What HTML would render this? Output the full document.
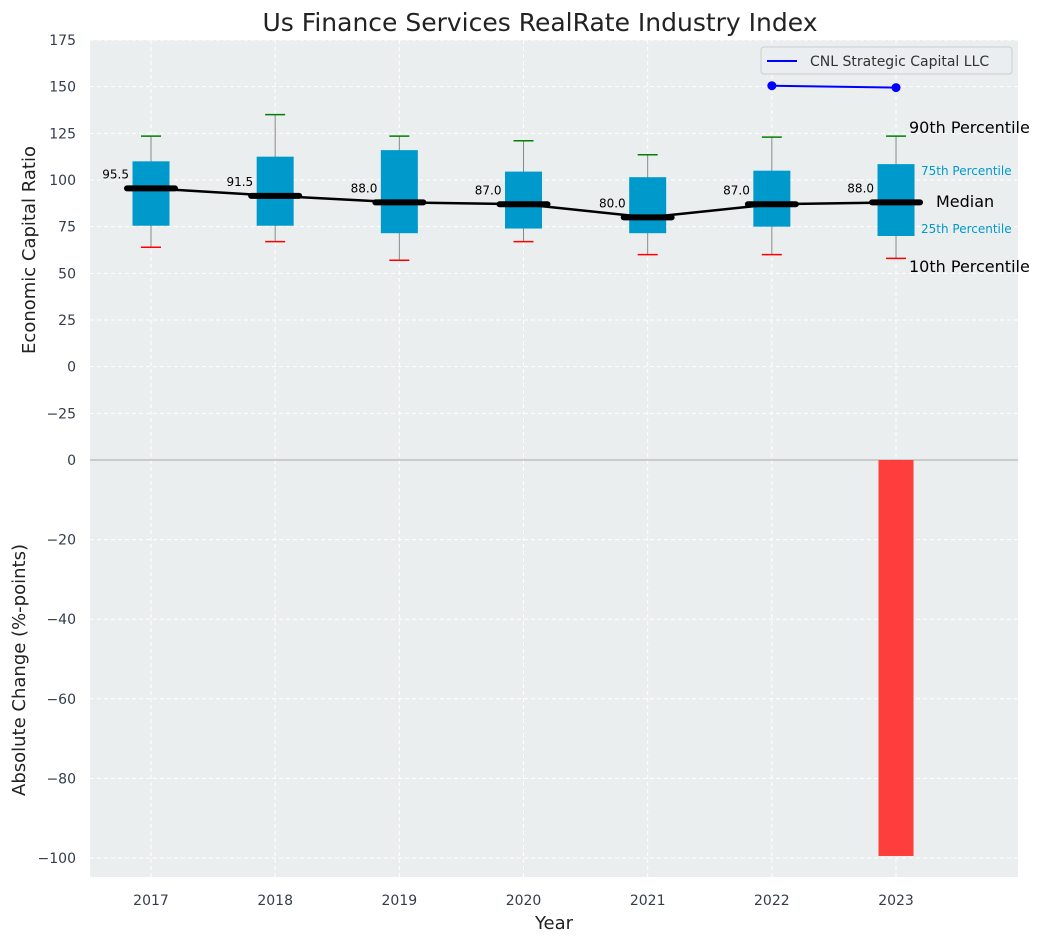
<!DOCTYPE html>
<html><head><meta charset="utf-8"><style>
body{margin:0;background:#fff;}
svg text{font-family:"DejaVu Sans","Liberation Sans",sans-serif;}
</style></head><body>
<svg id="c" width="1044" height="942" xmlns="http://www.w3.org/2000/svg"></svg>
<script>
const years=[2017,2018,2019,2020,2021,2022,2023];
const p10=[64,67,57,67,60,60,58];
const q1=[75.5,75.5,71.5,74,71.5,75,70];
const med=[95.5,91.5,88.0,87.0,80.0,87.0,88.0];
const q3=[110,112.5,116,104.5,101.5,105,108.5];
const p90=[123.5,135,123.5,121,113.5,123,123.5];
const cnlYears=[2022,2023];
const cnlVals=[150.5,149.5];
const changeYears=[2023];
const changeVals=[-99.5];
const topTicks=[-25,0,25,50,75,100,125,150,175];
const botTicks=[-100,-80,-60,-40,-20,0];

const NS="http://www.w3.org/2000/svg";
const svg=document.getElementById('c');
function el(t,a,p){const e=document.createElementNS(NS,t);for(const k in a)e.setAttribute(k,a[k]);(p||svg).appendChild(e);return e;}
const L=90,R=1018;
const x=v=>151+(v-2017)*124.17;
const T0=40,T1=460; const yt=v=>T1-(v+50)/(225)*(T1-T0);
const B0=460,B1=877; const yb=v=>B0+(-v)*3.98;

let bg=el('rect',{x:L,y:T0,width:R-L,height:B1-T0,fill:'#eaeeef'});


years.forEach(yr=>{let g=el('line',{x1:x(yr),x2:x(yr),y1:T0,y2:B1,stroke:'#fff','stroke-dasharray':'4,3'});
});
topTicks.forEach(v=>{let g=el('line',{x1:L,x2:R,y1:yt(v),y2:yt(v),stroke:'#fff','stroke-dasharray':'4,3'});

let t=el('text',{x:L-14,y:yt(v)+5,'text-anchor':'end','font-size':14,fill:'#333d4d'});t.textContent=v<0?'\u2212'+(-v):v;
});
botTicks.forEach(v=>{let g=el('line',{x1:L,x2:R,y1:yb(v),y2:yb(v),stroke:'#fff','stroke-dasharray':'4,3'});

let t=el('text',{x:L-14,y:yb(v)+5,'text-anchor':'end','font-size':14,fill:'#333d4d'});t.textContent=v<0?'\u2212'+(-v):v;
});
let sep=el('line',{x1:L,x2:R,y1:460,y2:460,stroke:'#aaa','stroke-width':1});

years.forEach((yr,i)=>{const cx=x(yr);
let w=el('line',{x1:cx,x2:cx,y1:yt(p10[i]),y2:yt(p90[i]),stroke:'#888','stroke-width':1});

let b=el('rect',{x:cx-18.5,y:yt(q3[i]),width:37,height:yt(q1[i])-yt(q3[i]),fill:'#0099cc'});

let c1=el('line',{x1:cx-10,x2:cx+10,y1:yt(p90[i]),y2:yt(p90[i]),stroke:'green','stroke-width':1.5});

let c2=el('line',{x1:cx-10,x2:cx+10,y1:yt(p10[i]),y2:yt(p10[i]),stroke:'red','stroke-width':1.5});

});
let pts=years.map((yr,i)=>x(yr)+','+yt(med[i])).join(' ');
let ml=el('polyline',{points:pts,fill:'none',stroke:'#000','stroke-width':2.5});

years.forEach((yr,i)=>{const cx=x(yr);
let m=el('line',{x1:cx-24,x2:cx+24,y1:yt(med[i]),y2:yt(med[i]),stroke:'#000','stroke-width':6,'stroke-linecap':'round'});

let t=el('text',{x:cx-22,y:yt(med[i])-10,'text-anchor':'end','font-size':12,fill:'#000'});t.textContent=med[i].toFixed(1);
});
let cp=el('polyline',{points:cnlYears.map((yr,i)=>x(yr)+','+yt(cnlVals[i])).join(' '),fill:'none',stroke:'blue','stroke-width':2});

cnlYears.forEach((yr,i)=>{let d=el('circle',{cx:x(yr),cy:yt(cnlVals[i]),r:4.5,fill:'blue'});
});
changeYears.forEach((yr,i)=>{let b=el('rect',{x:x(yr)-17.5,y:yb(0),width:35,height:yb(changeVals[i])-yb(0),fill:'#ff3333',opacity:0.95});
});
years.forEach(yr=>{let t=el('text',{x:x(yr),y:905,'text-anchor':'middle','font-size':14,fill:'#333d4d'});t.textContent=yr;
});
function txt(s,a,name){let t=el('text',a);t.textContent=s;return t;}
txt('Us Finance Services RealRate Industry Index',{x:540,y:31,'text-anchor':'middle','font-size':25,fill:'#222'},'chart-title');
txt('Year',{x:554,y:929,'text-anchor':'middle','font-size':18,fill:'#222'},'x-axis-title');
txt('Economic Capital Ratio',{x:0,y:0,transform:'translate(35,250) rotate(-90)','text-anchor':'middle','font-size':18,fill:'#222'},'y-axis-title-top');
txt('Absolute Change (%-points)',{x:0,y:0,transform:'translate(25,670) rotate(-90)','text-anchor':'middle','font-size':18,fill:'#222'},'y-axis-title-bottom');
txt('90th Percentile',{x:909,y:133,'font-size':16,fill:'#000'},'p90-annotation');
txt('75th Percentile',{x:921,y:175,'font-size':12,fill:'#0099cc'},'p75-annotation');
txt('Median',{x:936,y:207,'font-size':16,fill:'#000'},'median-annotation');
txt('25th Percentile',{x:921,y:233,'font-size':12,fill:'#0099cc'},'p25-annotation');
txt('10th Percentile',{x:909,y:272,'font-size':16,fill:'#000'},'p10-annotation');
let lg=el('rect',{x:761,y:47,width:251,height:27,rx:3,fill:'#eaeef0',stroke:'#ccc'});

let ll=el('line',{x1:767,x2:797,y1:61,y2:61,stroke:'blue','stroke-width':2});

txt('CNL Strategic Capital LLC',{x:810,y:66,'font-size':14,fill:'#333'},'legend-entry');
</script>
</body></html>
